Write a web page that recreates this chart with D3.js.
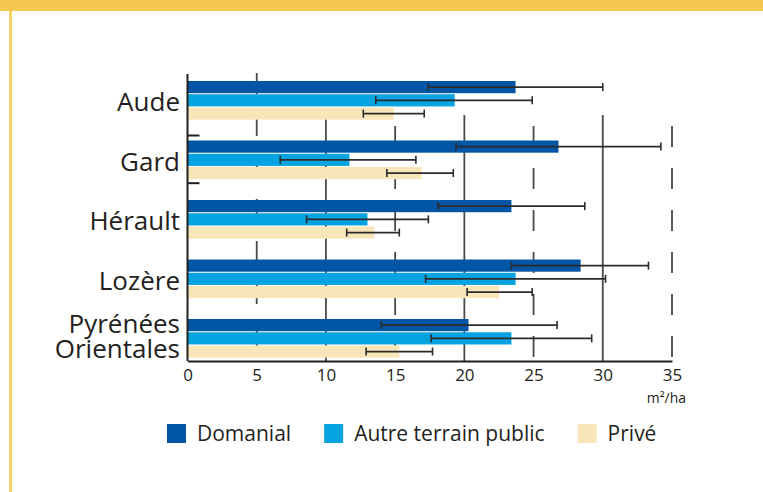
<!DOCTYPE html>
<html>
<head>
<meta charset="utf-8">
<script src="https://cdn.jsdelivr.net/npm/d3@7"></script>
<style>
body { margin: 0; background: #fff; }
svg text { font-family: "Open Sans", sans-serif; fill: #231f20; }
</style>
</head>
<body>
<div id="chart"></div>
<script>
var width = 763,
    height = 492;

var departements = ["Aude", "Gard", "Hérault", "Lozère", "Pyrénées Orientales"];
var series = ["Domanial", "Autre terrain public", "Privé"];
var colors = ["#0055a5", "#05a3df", "#f8e6b8"];

// surface terrière moyenne (m²/ha) et bornes de l'intervalle
var domanial     = [23.7, 26.8, 23.4, 28.4, 20.3];
var domanialLow  = [17.4, 19.4, 18.1, 23.4, 14.0];
var domanialHigh = [30.0, 34.2, 28.7, 33.3, 26.7];
var autre        = [19.3, 11.7, 13.0, 23.7, 23.4];
var autreLow     = [13.6, 6.7, 8.6, 17.2, 17.6];
var autreHigh    = [24.9, 16.5, 17.4, 30.2, 29.2];
var prive        = [14.9, 16.9, 13.5, 22.5, 15.3];
var priveLow     = [12.7, 14.4, 11.5, 20.2, 12.9];
var priveHigh    = [17.1, 19.2, 15.3, 24.9, 17.7];
var xTicks = [0, 5, 10, 15, 20, 25, 30, 35];
var unit = "m²/ha";

var values = [domanial, autre, prive],
    lows = [domanialLow, autreLow, priveLow],
    highs = [domanialHigh, autreHigh, priveHigh];

var rows = [];
departements.forEach(function(dep, i) {
    series.forEach(function(s, j) {
        rows.push({ dep: dep, serie: s, value: values[j][i], low: lows[j][i], high: highs[j][i] });
    });
});

var svg = d3.select("#chart").append("svg")
    .attr("width", width)
    .attr("height", height);

// cadre jaune
svg.append("rect").attr("x", 0).attr("y", 0).attr("width", width).attr("height", 11).attr("fill", "#f4c84f");
svg.append("rect").attr("x", 9).attr("y", 11).attr("width", 3).attr("height", height - 11).attr("fill", "#f6d26c");

var x = d3.scaleLinear().domain([0, 35]).range([187.5, 672]);
var y = d3.scaleBand().domain(departements).range([81, 357.7]).paddingInner(0.35).paddingOuter(0);
var ys = d3.scaleBand().domain(series).range([0, y.bandwidth()]).paddingInner(0.08);
var color = d3.scaleOrdinal().domain(series).range(colors);
var axisY = 361;

// grille
svg.append("g").selectAll("line")
    .data(xTicks.filter(function(t) { return t > 0; }))
    .enter().append("line")
    .attr("x1", function(d) { return x(d); })
    .attr("x2", function(d) { return x(d); })
    .attr("y1", function(d) { return d % 10 === 0 ? 115 : (d === 5 ? 73 : 126); })
    .attr("y2", axisY)
    .attr("stroke", "#4a4a4a")
    .attr("stroke-width", 1.8)
    .attr("stroke-dasharray", function(d) { return d % 10 === 0 ? null : "21,21"; });

// barres
svg.append("g").selectAll("rect")
    .data(rows)
    .enter().append("rect")
    .attr("x", x(0))
    .attr("y", function(d) { return y(d.dep) + ys(d.serie); })
    .attr("width", function(d) { return x(d.value) - x(0); })
    .attr("height", ys.bandwidth())
    .attr("fill", function(d) { return color(d.serie); });

// barres d'erreur
var err = svg.append("g").attr("stroke", "#2b2b2b").attr("stroke-width", 1.6);
rows.forEach(function(d) {
    var cy = y(d.dep) + ys(d.serie) + ys.bandwidth() / 2;
    err.append("line").attr("x1", x(d.low)).attr("x2", x(d.high)).attr("y1", cy).attr("y2", cy);
    err.append("line").attr("x1", x(d.low)).attr("x2", x(d.low)).attr("y1", cy - 4).attr("y2", cy + 4);
    err.append("line").attr("x1", x(d.high)).attr("x2", x(d.high)).attr("y1", cy - 4).attr("y2", cy + 4);
});

// axe vertical
svg.append("line")
    .attr("x1", x(0)).attr("x2", x(0))
    .attr("y1", y.range()[0] - 7).attr("y2", axisY)
    .attr("stroke", "#231f20").attr("stroke-width", 2);
[y("Gard") - 5, y("Gard") + y.bandwidth() + 4].forEach(function(t) {
    svg.append("line")
        .attr("x1", x(0)).attr("x2", x(0) + 12)
        .attr("y1", t).attr("y2", t)
        .attr("stroke", "#231f20").attr("stroke-width", 2);
});

// axe horizontal
var xAxis = svg.append("g")
    .attr("transform", "translate(0," + axisY + ")")
    .call(d3.axisBottom(x).tickValues(xTicks).tickSize(0).tickPadding(8));
xAxis.select(".domain").attr("stroke", "#231f20").attr("stroke-width", 2);
xAxis.selectAll("text").attr("font-size", 17).attr("font-family", "Open Sans").attr("fill", "#231f20");

svg.append("text")
    .attr("x", 686).attr("y", 403)
    .attr("text-anchor", "end")
    .attr("font-size", 14)
    .text(unit);

// noms des départements
departements.forEach(function(dep) {
    var cy = y(dep) + y.bandwidth() / 2;
    var parts = dep.split(" ");
    var t = svg.append("text")
        .attr("x", 180)
        .attr("text-anchor", "end")
        .attr("font-size", 26);
    if (parts.length === 1) {
        t.attr("y", cy + 11).text(dep);
    } else {
        t.attr("y", cy - 5);
        parts.forEach(function(p, k) {
            t.append("tspan").attr("x", 180).attr("dy", k === 0 ? 0 : 25).text(p);
        });
    }
});

// légende
var lx = 167;
series.forEach(function(s) {
    svg.append("rect")
        .attr("x", lx).attr("y", 424)
        .attr("width", 19).attr("height", 19)
        .attr("fill", color(s));
    var t = svg.append("text")
        .attr("x", lx + 30).attr("y", 441)
        .attr("font-size", 21)
        .text(s);
    lx += 30 + t.node().getComputedTextLength() + 33;
});
</script>
</body>
</html>
